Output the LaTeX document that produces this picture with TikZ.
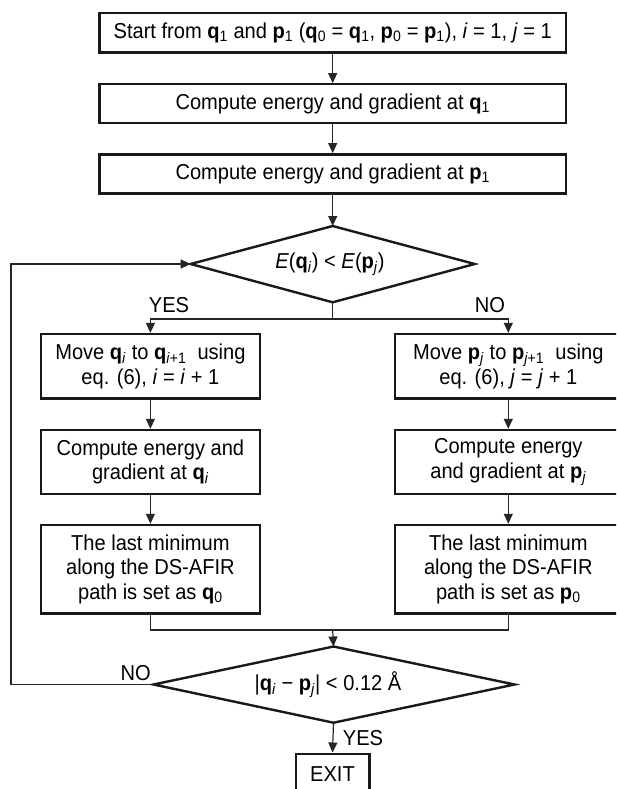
\documentclass[tikz,border=0pt]{standalone}
\usepackage{fontspec}
\setmainfont[FakeStretch=0.93]{Liberation Sans}
\usetikzlibrary{arrows.meta}
\newcommand{\bq}[1]{\textbf{q}\textsubscript{#1}}
\newcommand{\bp}[1]{\textbf{p}\textsubscript{#1}}
\tikzset{
  stepbox/.style={draw=black!90, line width=2.4pt, rectangle, inner sep=0pt, align=center,
    font=\fontsize{21.6}{24.5}\selectfont},
  decideline/.style={draw=black!90, line width=2.4pt, line join=miter},
  conn/.style={draw=black!85, line width=1.2pt},
  arr/.style={conn, -{Triangle[length=10pt,width=9pt]}},
  lbl/.style={inner sep=0pt, font=\fontsize{21.6}{24.5}\selectfont}
}
\begin{document}
\begin{tikzpicture}[x=1pt,y=-1pt]
\clip (0,0) rectangle (616,789);
\fill[white] (0,0) rectangle (616,789);
% top column
\node[stepbox, minimum width=466.7pt, minimum height=39.3pt] (b1) at (332.7,32.7)
  {Start from \bq{1} and \bp{1} (\bq{0} = \bq{1}, \bp{0} = \bp{1}), \textit{i} = 1, \textit{j} = 1};
\node[stepbox, minimum width=466.7pt, minimum height=39pt] (b2) at (332.7,103.8)
  {Compute energy and gradient at \bq{1}};
\node[stepbox, minimum width=466.7pt, minimum height=39pt] (b3) at (332.7,173.8)
  {Compute energy and gradient at \bp{1}};
% decision 1
\coordinate (d1n) at (332.7,226);
\coordinate (d1s) at (332.7,302.3);
\coordinate (d1w) at (190.7,264);
\coordinate (d1e) at (474.7,264);
\draw[decideline] (d1n) -- (d1e) -- (d1s) -- (d1w) -- cycle;
\node[lbl] (d1) at (330,264)
  {\textit{E}(\bq{\textit{i}}) < \textit{E}(\bp{\textit{j}})};
% left column
\node[stepbox, minimum width=219.3pt, minimum height=64.5pt] (l1) at (150.4,366.3)
  {Move \bq{\textit{i}} to \bq{\textit{i}+1}\ \ using\\eq. (6), \textit{i} = \textit{i} + 1};
\node[stepbox, minimum width=219.3pt, minimum height=64pt] (l2) at (150.4,462)
  {Compute energy and\\gradient at \bq{\textit{i}}};
\node[stepbox, minimum width=219.3pt, minimum height=88.7pt] (l3) at (150.4,569.3)
  {The last minimum\\along the DS-AFIR\\path is set as \bq{0}};
% right column
\node[stepbox, minimum width=227pt, minimum height=64.5pt] (r1) at (508.3,366.3)
  {Move \bp{\textit{j}} to \bp{\textit{j}+1}\ \ using\\eq. (6), \textit{j} = \textit{j} + 1};
\node[stepbox, minimum width=227pt, minimum height=64pt] (r2) at (508.3,462)
  {Compute energy\\and gradient at \bp{\textit{j}}};
\node[stepbox, minimum width=227pt, minimum height=88.7pt] (r3) at (508.3,569.3)
  {The last minimum\\along the DS-AFIR\\path is set as \bp{0}};
% decision 2
\coordinate (d2n) at (333.5,646.5);
\coordinate (d2s) at (333.5,722.7);
\coordinate (d2w) at (153.5,684.5);
\coordinate (d2e) at (514.5,684.5);
\draw[decideline] (d2n) -- (d2e) -- (d2s) -- (d2w) -- cycle;
\node[lbl] (d2) at (328,684.5)
  {|\bq{\textit{i}} − \bp{\textit{j}}| < 0.12 Å};
% exit
\node[stepbox, minimum width=73.6pt, minimum height=40.6pt] (ex) at (332.5,774)
  {EXIT};
% connector junctions
\coordinate (br) at (332.7,319);
\coordinate (mg) at (332.7,630);
\coordinate (lpb) at (11,684.5);
\coordinate (lpt) at (11,264);
% connectors
\draw[arr] (b1) -- (b2);
\draw[arr] (b2) -- (b3);
\draw[arr] (b3) -- (d1n);
\draw[conn] (d1s) -- (br);
\draw[arr] (br) -| (l1.north);
\draw[arr] (br) -| (r1.north);
\draw[arr] (l1) -- (l2);
\draw[arr] (l2) -- (l3);
\draw[arr] (r1) -- (r2);
\draw[arr] (r2) -- (r3);
\draw[conn] (l3.south) |- (mg);
\draw[conn] (r3.south) |- (mg);
\draw[arr] (mg) -- (d2n);
\draw[arr] (d2s) -- (ex.north);
\draw[arr] (d2w) -- (lpb) -- (lpt) -- (d1w);
% labels
\node[lbl] (yes1) at (169,305) {YES};
\node[lbl] (no1) at (490,305) {NO};
\node[lbl] (no2) at (135.6,673) {NO};
\node[lbl] (yes2) at (363,738) {YES};
\end{tikzpicture}
\end{document}
